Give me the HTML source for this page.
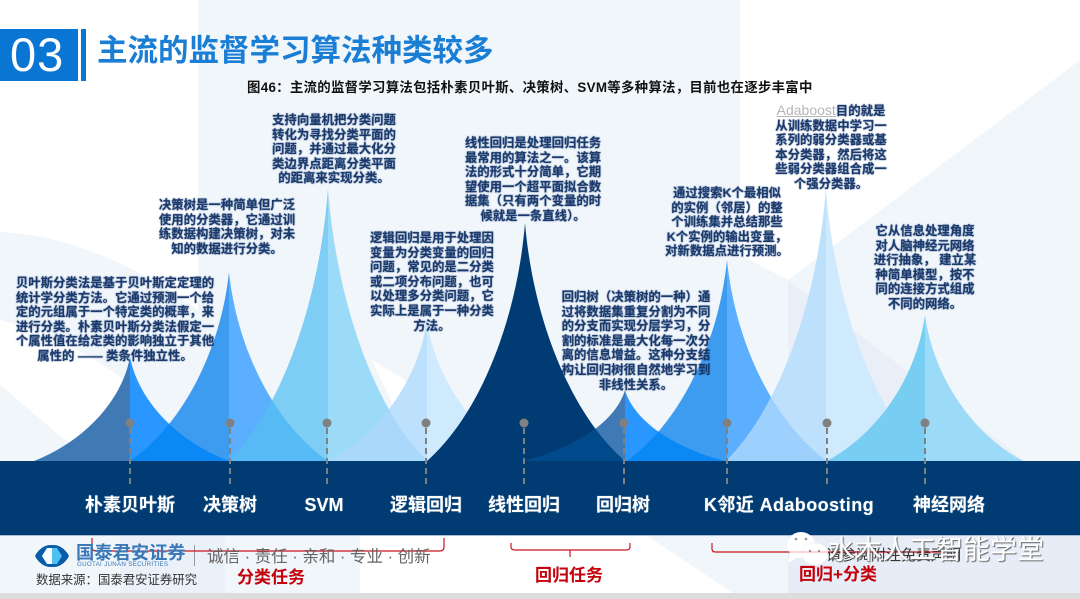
<!DOCTYPE html>
<html><head><meta charset="utf-8"><style>
html,body{margin:0;padding:0;background:#fff}
#p{position:relative;width:1080px;height:599px;overflow:hidden;background:#fff;font-family:"Liberation Sans","Noto Sans CJK SC",sans-serif}
svg{position:absolute;left:0;top:0}
.t{position:absolute;white-space:nowrap;text-align:center;font-weight:bold;font-size:12.4px;line-height:14.6px;color:#1b3a6b;text-shadow:0 0 1.5px rgba(20,60,120,.85);transform:translateX(-50%)}
.a{position:absolute;white-space:nowrap}
.l{position:absolute;white-space:nowrap;color:#fff;font-weight:bold;font-size:18px;line-height:22px;top:494px;transform:translateX(-50%);text-shadow:0 0 1px rgba(255,255,255,.5)}
.r{position:absolute;white-space:nowrap;color:#c4000b;font-weight:bold;font-size:17px;line-height:20px;transform:translateX(-50%)}
</style></head><body><div id="p">
<svg width="1080" height="599" viewBox="0 0 1080 599" xmlns="http://www.w3.org/2000/svg">
<defs>
<clipPath id="c1"><path d="M0 0C8 40 45 80 100 100L0 100Z" transform="translate(130,357) scale(.99,1.04)"/></clipPath>
<clipPath id="c2"><path d="M0 0C8 40 45 80 100 100L0 100Z" transform="translate(229,272) scale(.99,1.89)"/></clipPath>
<clipPath id="c3"><path d="M0 0C8 40 45 80 100 100L0 100Z" transform="translate(328,188) scale(.99,2.73)"/></clipPath>
<clipPath id="c5"><path d="M0 0C8 40 45 80 100 100L0 100Z" transform="translate(525,223) scale(1,2.38)"/></clipPath>
<clipPath id="c6"><path d="M0 0C8 40 45 80 100 100L0 100Z" transform="translate(625,390) scale(1,.71)"/></clipPath>
<clipPath id="c7"><path d="M0 0C8 40 45 80 100 100L0 100Z" transform="translate(727,260) scale(1,2.01)"/></clipPath>
</defs>
<!-- background -->
<rect x="198" y="0" width="542" height="461" fill="#f1f6fb"/>
<path d="M0 232C70 236 130 262 198 310L198 461L0 461Z" fill="#f1f6fb"/>
<path d="M0 320C40 330 90 350 150 400L100 461L90 461L0 385Z" fill="#fff"/>
<path d="M740 255L788 280L1080 60L1080 461L740 461Z" fill="#f1f6fb"/>
<path d="M788 280L1025 461L788 461Z" fill="#eaeff7"/>
<path d="M372 360L430 395L400 420Z" fill="#fff"/>
<!-- peaks -->
<path d="M0 0C8 40 45 80 100 100L0 100Z" transform="translate(130,357) scale(-.96,1.04)" fill="#3f7ab4"/>
<path d="M0 0C8 40 45 80 100 100L0 100Z" transform="translate(130,357) scale(.99,1.04)" fill="#2a96ff"/>
<path d="M0 0C8 40 45 80 100 100L0 100Z" transform="translate(229,272) scale(-.99,1.89)" fill="#3e9cf0"/>
<path d="M0 0C8 40 45 80 100 100L0 100Z" transform="translate(229,272) scale(.99,1.89)" fill="#5caeff"/>
<path d="M0 0C8 40 45 80 100 100L0 100Z" transform="translate(328,188) scale(-.99,2.73)" fill="#7dcdf5"/>
<path d="M0 0C8 40 45 80 100 100L0 100Z" transform="translate(328,188) scale(.99,2.73)" fill="#9bdbf8"/>
<path d="M0 0C8 40 45 80 100 100L0 100Z" transform="translate(427,320) scale(-.99,1.41)" fill="#bde0fc"/>
<path d="M0 0C8 40 45 80 100 100L0 100Z" transform="translate(427,320) scale(.99,1.41)" fill="#d0eafd"/>
<g clip-path="url(#c1)"><path d="M0 0C8 40 45 80 100 100L0 100Z" transform="translate(229,272) scale(-.99,1.89)" fill="#0a88f5"/></g>
<g clip-path="url(#c2)"><path d="M0 0C8 40 45 80 100 100L0 100Z" transform="translate(328,188) scale(-.99,2.73)" fill="#56bbf5"/></g>
<g clip-path="url(#c3)"><path d="M0 0C8 40 45 80 100 100L0 100Z" transform="translate(427,320) scale(-.99,1.41)" fill="#aad8fb"/></g>
<path d="M0 0C8 40 45 80 100 100L0 100Z" transform="translate(525,223) scale(-.98,2.38)" fill="#003c73"/>
<path d="M0 0C8 40 45 80 100 100L0 100Z" transform="translate(525,223) scale(1,2.38)" fill="#003c73"/>
<path d="M0 0C8 40 45 80 100 100L0 100Z" transform="translate(625,390) scale(-1,.71)" fill="#3f7ab4"/>
<path d="M0 0C8 40 45 80 100 100L0 100Z" transform="translate(625,390) scale(1,.71)" fill="#2a96ff"/>
<path d="M0 0C8 40 45 80 100 100L0 100Z" transform="translate(727,260) scale(-1,2.01)" fill="#3e9cf0"/>
<path d="M0 0C8 40 45 80 100 100L0 100Z" transform="translate(727,260) scale(1,2.01)" fill="#5caeff"/>
<path d="M0 0C8 40 45 80 100 100L0 100Z" transform="translate(826,188) scale(-1,2.73)" fill="#bde0fc"/>
<path d="M0 0C8 40 45 80 100 100L0 100Z" transform="translate(826,188) scale(1,2.73)" fill="#d0eafd"/>
<g clip-path="url(#c5)"><path d="M0 0C8 40 45 80 100 100L0 100Z" transform="translate(625,390) scale(-1,.71)" fill="#004a8c"/></g>
<g clip-path="url(#c6)"><path d="M0 0C8 40 45 80 100 100L0 100Z" transform="translate(727,260) scale(-1,2.01)" fill="#0a88f5"/></g>
<g clip-path="url(#c7)"><path d="M0 0C8 40 45 80 100 100L0 100Z" transform="translate(826,188) scale(-1,2.73)" fill="#9ed0fe"/></g>
<path d="M0 0C8 40 45 80 100 100L0 100Z" transform="translate(925,315) scale(-.98,1.46)" fill="#78cdf3"/>
<path d="M0 0C8 40 45 80 100 100L0 100Z" transform="translate(925,315) scale(.98,1.46)" fill="#9bdbf8"/>
<!-- bar -->
<rect x="0" y="461" width="1080" height="74" fill="#003c73"/>
<rect x="0" y="535" width="1080" height="1" fill="#a9bcd3"/>
<!-- footer -->
<rect x="0" y="536" width="360" height="57" fill="#f1f6fb"/>
<rect x="120" y="536" width="105" height="57" fill="#ebf1f9"/>
<path d="M647 536L1080 536L1080 593L733 593Z" fill="#f1f6fb"/>
<rect x="788" y="536" width="292" height="57" fill="#e7edf6"/>
<rect x="0" y="593" width="1080" height="6" fill="#dcdcdc"/>
<!-- connectors -->
<g stroke="#808080" stroke-width="2" stroke-dasharray="6 4" fill="none">
<path d="M130 428V487M230 428V487M327 428V487M426 428V487M524 428V487M624 428V487M727 428V487M827 428V487M925 428V487"/>
</g>
<g fill="#808080">
<circle cx="130" cy="423" r="4.5"/><circle cx="230" cy="423" r="4.5"/><circle cx="327" cy="423" r="4.5"/><circle cx="426" cy="423" r="4.5"/><circle cx="524" cy="423" r="4.5"/><circle cx="624" cy="423" r="4.5"/><circle cx="727" cy="423" r="4.5"/><circle cx="827" cy="423" r="4.5"/><circle cx="925" cy="423" r="4.5"/>
</g>
<!-- logo -->
<path d="M35 556C38 550 44 545 50 545H54C60 545 66 550 69 556C66 562 60 567 54 567H50C44 567 38 562 35 556Z" fill="#0a5ca8"/>
<path d="M47 548H57L62 556L57 564H47L42 556Z" fill="#4dbff0"/>
<path d="M47 548H52V564H47L42 556Z" fill="#f4fafd"/>
<rect x="194" y="545" width="1" height="21" fill="#999"/>
<!-- brackets -->
<g fill="none" stroke="#c9141e" stroke-width="1.2">
<path d="M92 538V547Q92 551 96 551H440Q444 551 444 547V538"/>
<path d="M511 543V547Q511 550 515 550H626Q630 550 630 547V543M570 550V557"/>
<path d="M712 543V549Q712 552 716 552H945"/>
</g>
</svg>

<div style="position:absolute;left:0;top:29px;width:78px;height:52px;background:#0a76d4"></div>
<div style="position:absolute;left:81px;top:29px;width:5px;height:52px;background:#0a76d4"></div>
<div class="a" style="left:10px;top:29px;font-size:47px;line-height:52px;color:#fff;letter-spacing:1px">03</div>
<div class="a" style="left:97px;top:32px;font-size:30.5px;line-height:38px;font-weight:bold;color:#1a7fd4">主流的监督学习算法种类较多</div>
<div class="a" style="left:247px;top:79px;font-size:13.4px;line-height:18px;font-weight:bold;color:#111;letter-spacing:.3px">图46：主流的监督学习算法包括朴素贝叶斯、决策树、SVM等多种算法，目前也在逐步丰富中</div>

<div class="t" style="left:115px;top:276px">贝叶斯分类法是基于贝叶斯定定理的<br>统计学分类方法。它通过预测一个给<br>定的元组属于一个特定类的概率，来<br>进行分类。朴素贝叶斯分类法假定一<br>个属性值在给定类的影响独立于其他<br>属性的 —— 类条件独立性。</div>
<div class="t" style="left:227px;top:198px">决策树是一种简单但广泛<br>使用的分类器，它通过训<br>练数据构建决策树，对未<br>知的数据进行分类。</div>
<div class="t" style="left:334px;top:113px">支持向量机把分类问题<br>转化为寻找分类平面的<br>问题，并通过最大化分<br>类边界点距离分类平面<br>的距离来实现分类。</div>
<div class="t" style="left:432px;top:231px">逻辑回归是用于处理因<br>变量为分类变量的回归<br>问题，常见的是二分类<br>或二项分布问题，也可<br>以处理多分类问题，它<br>实际上是属于一种分类<br>方法。</div>
<div class="t" style="left:533px;top:136px">线性回归是处理回归任务<br>最常用的算法之一。该算<br>法的形式十分简单，它期<br>望使用一个超平面拟合数<br>据集（只有两个变量的时<br>候就是一条直线）。</div>
<div class="t" style="left:636px;top:290px">回归树（决策树的一种）通<br>过将数据集重复分割为不同<br>的分支而实现分层学习，分<br>割的标准是最大化每一次分<br>离的信息增益。这种分支结<br>构让回归树很自然地学习到<br>非线性关系。</div>
<div class="t" style="left:727px;top:186px">通过搜索K个最相似<br>的实例（邻居）的整<br>个训练集并总结那些<br>K个实例的输出变量，<br>对新数据点进行预测。</div>
<div class="t" style="left:831px;top:103px"><span style="color:#b5b5b5;font-weight:normal;text-shadow:none;text-decoration:underline;font-size:14px">Adaboost</span>目的就是<br>从训练数据中学习一<br>系列的弱分类器或基<br>本分类器，然后将这<br>些弱分类器组合成一<br>个强分类器。</div>
<div class="t" style="left:925px;top:224px">它从信息处理角度<br>对人脑神经元网络<br>进行抽象， 建立某<br>种简单模型，按不<br>同的连接方式组成<br>不同的网络。</div>

<div class="l" style="left:130px">朴素贝叶斯</div>
<div class="l" style="left:230px">决策树</div>
<div class="l" style="left:324px">SVM</div>
<div class="l" style="left:426px">逻辑回归</div>
<div class="l" style="left:524px">线性回归</div>
<div class="l" style="left:623px">回归树</div>
<div class="l" style="left:789px;letter-spacing:.4px">K邻近 Adaboosting</div>
<div class="l" style="left:949px">神经网络</div>

<div class="a" style="left:76px;top:542px;font-size:18.3px;line-height:22px;font-weight:bold;color:#3a78b8">国泰君安证券</div>
<div class="a" style="left:77px;top:561px;font-size:6.2px;line-height:8px;color:#3a78b8;letter-spacing:.3px">GUOTAI JUNAN SECURITIES</div>
<div class="a" style="left:207px;top:546px;font-size:16.5px;line-height:22px;color:#666">诚信 · 责任 · 亲和 · 专业 · 创新</div>
<div class="a" style="left:36px;top:571px;font-size:12.4px;line-height:18px;color:#333">数据来源：国泰君安证券研究</div>
<div class="r" style="left:271px;top:568px">分类任务</div>
<div class="r" style="left:569px;top:566px">回归任务</div>
<div class="r" style="left:838px;top:565px">回归+分类</div>

<div class="a" style="left:826px;top:546px;font-size:15px;line-height:20px;color:#333">请参阅附注免责声明</div>
<svg width="1080" height="599" viewBox="0 0 1080 599" xmlns="http://www.w3.org/2000/svg">
<ellipse cx="801" cy="545" rx="14" ry="13" fill="#fff"/>
<path d="M790 553L788 563L798 557Z" fill="#fff"/>
<ellipse cx="815" cy="554" rx="13" ry="11" stroke="#eee" stroke-width=".5" fill="#fff"/>
<circle cx="796" cy="539" r="1.3" fill="#999"/><circle cx="806" cy="539" r="1.3" fill="#999"/>
<circle cx="810" cy="551" r="1.2" fill="#999"/><circle cx="819" cy="551" r="1.2" fill="#999"/>
<path d="M712 552H945" stroke="#c9141e" stroke-width="1" opacity=".35" fill="none"/>
</svg>
<div class="a" style="left:828px;top:533px;font-size:27px;line-height:34px;color:#fff;text-shadow:1px 1px 1px #666">水木人工智能学堂</div>
</div></body></html>
